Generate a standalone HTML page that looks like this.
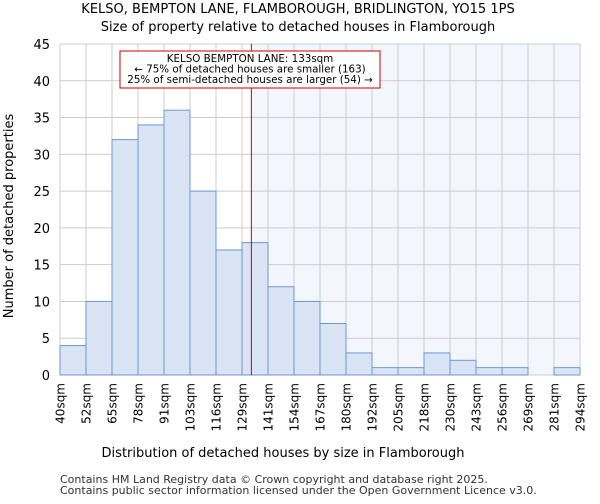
<!DOCTYPE html>
<html><head><meta charset="utf-8"><style>
body{margin:0;background:#fff;font-family:"DejaVu Sans","Liberation Sans",sans-serif;}
</style></head><body>
<svg id="chart" width="600" height="500" xmlns="http://www.w3.org/2000/svg" font-family="DejaVu Sans, Liberation Sans, sans-serif">
<text x="298" y="13" text-anchor="middle" font-size="13">KELSO, BEMPTON LANE, FLAMBOROUGH, BRIDLINGTON, YO15 1PS</text>
<text x="298" y="31" text-anchor="middle" font-size="13">Size of property relative to detached houses in Flamborough</text>
<g id="plot"></g>
<text x="283" y="457" text-anchor="middle" font-size="13">Distribution of detached houses by size in Flamborough</text>
<text transform="translate(13,216) rotate(-90)" text-anchor="middle" font-size="13">Number of detached properties</text>
<text x="60" y="483" font-size="11" fill="#333">Contains HM Land Registry data © Crown copyright and database right 2025.</text>
<text x="60" y="494" font-size="11" fill="#333">Contains public sector information licensed under the Open Government Licence v3.0.</text>
</svg>
<script>
const categories=["40sqm","52sqm","65sqm","78sqm","91sqm","103sqm","116sqm","129sqm","141sqm","154sqm","167sqm","180sqm","192sqm","205sqm","218sqm","230sqm","243sqm","256sqm","269sqm","281sqm","294sqm"];
const counts=[4,10,32,34,36,25,17,18,12,10,7,3,1,1,3,2,1,1,0,1];
const yTicks=[0,5,10,15,20,25,30,35,40,45];
const markerBin=7.36;
const NS="http://www.w3.org/2000/svg";
const g=document.getElementById('plot');
const L=60,R=580,T=44,B=375,yMax=45;
const bw=(R-L)/counts.length;
const x=i=>L+i*bw, y=v=>B-(v/yMax)*(B-T);
function mk(t,a,p){const e=document.createElementNS(NS,t);for(const k in a)e.setAttribute(k,a[k]);(p||g).appendChild(e);return e;}
let e=mk('rect',{x:L,y:T,width:R-L,height:B-T,fill:'#fff'});


const mx=x(markerBin);
e=mk('rect',{x:mx,y:T,width:R-mx,height:B-T,fill:'#f4f6fd'});


yTicks.forEach(v=>{
 e=mk('line',{x1:L,x2:R,y1:y(v),y2:y(v),stroke:'#ccc'});
 
 
 e=mk('text',{x:L-10,y:y(v)+5,'text-anchor':'end','font-size':13});
 e.textContent=v;
 
 
});
categories.forEach((c,i)=>{
 e=mk('line',{x1:x(i),x2:x(i),y1:T,y2:B,stroke:'#ccc'});
 
 
 e=mk('text',{transform:`translate(${x(i)+4.5},${B+8}) rotate(-90)`,'text-anchor':'end','font-size':12});
 e.textContent=c;
 
 
});
counts.forEach((v,i)=>{
 if(v<=0)return;
 e=mk('rect',{x:x(i),y:y(v),width:bw,height:B-y(v),fill:'#dae4f4',stroke:'#6a98d4','stroke-width':1});
 
 
});
e=mk('line',{x1:mx,x2:mx,y1:T,y2:B,stroke:'#c00','stroke-width':1});


e=mk('rect',{x:120,y:51,width:260,height:37,fill:'#fff',stroke:'#c00'});


["KELSO BEMPTON LANE: 133sqm","← 75% of detached houses are smaller (163)","25% of semi-detached houses are larger (54) →"].forEach((t,i)=>{
 e=mk('text',{x:250,y:62+i*10.5,'text-anchor':'middle','font-size':10.3});
 e.textContent=t;
 
 
});
</script>
</body></html>
